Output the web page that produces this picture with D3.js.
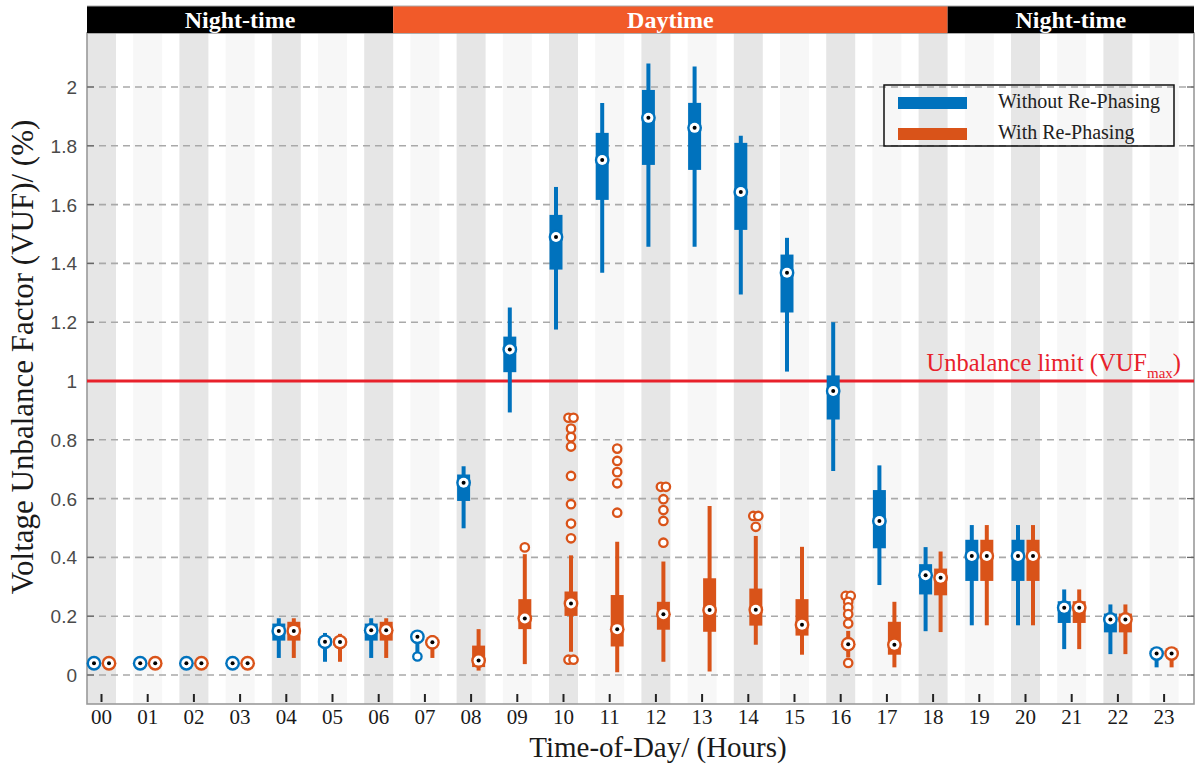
<!DOCTYPE html>
<html><head><meta charset="utf-8">
<script src="https://cdn.jsdelivr.net/npm/d3@7/dist/d3.min.js"></script>
<style>body{margin:0;background:#fff}</style>
</head><body><svg id="c" width="1203" height="765"></svg>
<script>
// ---------- DATA ----------
const hours = ["00","01","02","03","04","05","06","07","08","09","10","11","12","13","14","15","16","17","18","19","20","21","22","23"];
const yTicks = [0,0.2,0.4,0.6,0.8,1,1.2,1.4,1.6,1.8,2];
const yTickLabels = ["0","0.2","0.4","0.6","0.8","1","1.2","1.4","1.6","1.8","2"];
const seriesNames = ["Without Re-Phasing","With Re-Phasing"];
const periods = ["Night-time","Daytime","Night-time"];
const vufLimit = 1;

// Without Re-Phasing (blue)
const woLo  = [0.04,0.04,0.04,0.04,0.058,0.045,0.058,0.068,0.499,0.893,1.175,1.368,1.457,1.457,1.294,1.032,0.694,0.306,0.149,0.169,0.169,0.088,0.071,0.026];
const woQ1  = [0.04,0.04,0.04,0.04,0.117,0.100,0.117,0.125,0.592,1.030,1.379,1.616,1.735,1.718,1.514,1.233,0.869,0.431,0.274,0.320,0.320,0.177,0.145,0.068];
const woMed = [0.04,0.04,0.04,0.04,0.150,0.113,0.152,0.130,0.654,1.107,1.490,1.752,1.895,1.861,1.643,1.368,0.966,0.524,0.339,0.405,0.405,0.229,0.189,0.073];
const woQ3  = [0.04,0.04,0.04,0.04,0.175,0.125,0.175,0.135,0.682,1.151,1.565,1.844,1.990,1.946,1.810,1.430,1.019,0.629,0.377,0.460,0.460,0.251,0.209,0.077];
const woHi  = [0.04,0.04,0.04,0.04,0.193,0.143,0.193,0.140,0.710,1.250,1.660,1.946,2.080,2.070,1.834,1.487,1.200,0.713,0.435,0.510,0.510,0.291,0.240,0.080];
const woOut = [[],[],[],[],[],[],[],[0.063],[],[],[],[],[],[],[],[],[],[],[],[],[],[],[],[]];

// With Re-Phasing (orange)
const wLo  = [0.04,0.04,0.04,0.04,0.058,0.045,0.058,0.058,0.015,0.037,0.079,0.009,0.045,0.012,0.103,0.069,0.060,0.026,0.146,0.169,0.169,0.088,0.071,0.026];
const wQ1  = [0.04,0.04,0.04,0.04,0.117,0.100,0.117,0.100,0.027,0.156,0.201,0.097,0.154,0.147,0.168,0.134,0.095,0.069,0.271,0.320,0.320,0.177,0.145,0.068];
const wMed = [0.04,0.04,0.04,0.04,0.150,0.112,0.152,0.111,0.049,0.192,0.243,0.156,0.207,0.221,0.222,0.171,0.105,0.103,0.331,0.405,0.405,0.229,0.189,0.073];
const wQ3  = [0.04,0.04,0.04,0.04,0.181,0.125,0.181,0.120,0.100,0.258,0.284,0.272,0.249,0.329,0.294,0.258,0.115,0.181,0.362,0.460,0.460,0.251,0.209,0.077];
const wHi  = [0.04,0.04,0.04,0.04,0.193,0.140,0.193,0.136,0.156,0.411,0.407,0.453,0.386,0.575,0.473,0.436,0.150,0.249,0.420,0.510,0.510,0.291,0.240,0.080];
const wOut = [[],[],[],[],[],[],[],[],[],[0.434],
  [0.875,0.875,0.838,0.809,0.777,0.677,0.581,0.515,0.465,0.052,0.052],
  [0.770,0.728,0.690,0.652,0.552],
  [0.640,0.640,0.598,0.561,0.524,0.450],
  [],
  [0.541,0.541,0.504],
  [],
  [0.269,0.269,0.249,0.230,0.207,0.175,0.041],
  [],[],[],[],[],[],[]];

// ---------- LAYOUT ----------
const BLUE = "#0072BD", ORANGE = "#D95319", RED = "#e8212b";
const L = 87, R = 1194, T = 33, B = 704, BANDTOP = 6;
const svg = d3.select("#c");
const x = d3.scaleBand().domain(hours).range([78.4, 1187.2]).paddingInner(0).paddingOuter(0);
const cx = h => x(h) + x.bandwidth()/2;
const y = d3.scaleLinear().domain([0, 2]).range([675, 87]);
const serif = "'Liberation Serif','Times New Roman',serif";
const sans = "'Liberation Sans',Arial,sans-serif";

// alternating background bands
svg.append("g").selectAll("rect").data(hours).join("rect")
  .attr("x", h => cx(h) - 14.5).attr("y", T).attr("width", 29).attr("height", B - T)
  .attr("fill", (h, i) => i % 2 === 0 ? "#e6e6e6" : "#f7f7f7");

// gridlines
svg.append("g").selectAll("line").data(yTicks).join("line")
  .attr("x1", L).attr("x2", R).attr("y1", d => y(d)).attr("y2", d => y(d))
  .attr("stroke", "#a9a9a9").attr("stroke-width", 1.6).attr("stroke-dasharray", "7,5");

// frame
svg.append("rect").attr("x", L).attr("y", T).attr("width", R - L).attr("height", B - T)
  .attr("fill", "none").attr("stroke", "#9a9a9a").attr("stroke-width", 1.6);

// y ticks & labels
const yg = svg.append("g");
yg.selectAll("line.l").data(yTicks).join("line").attr("class","l")
  .attr("x1", L).attr("x2", L + 7).attr("y1", d => y(d)).attr("y2", d => y(d))
  .attr("stroke", "#666").attr("stroke-width", 1.3);
yg.selectAll("line.r").data(yTicks).join("line").attr("class","r")
  .attr("x1", R - 7).attr("x2", R).attr("y1", d => y(d)).attr("y2", d => y(d))
  .attr("stroke", "#666").attr("stroke-width", 1.3);
yg.selectAll("text").data(yTicks).join("text")
  .attr("x", 77).attr("y", d => y(d) + 7).attr("text-anchor", "end")
  .attr("font-family", sans).attr("font-size", 19).attr("fill", "#4a4a4a")
  .text((d, i) => yTickLabels[i]);

// x ticks & labels
const xg = svg.append("g");
xg.selectAll("line").data(hours).join("line")
  .attr("x1", cx).attr("x2", cx).attr("y1", B - 10).attr("y2", B - 2)
  .attr("stroke", "#222").attr("stroke-width", 2);
xg.selectAll("text").data(hours).join("text")
  .attr("x", cx).attr("y", 724).attr("text-anchor", "middle")
  .attr("font-family", serif).attr("font-size", 21).attr("fill", "#1a1a1a")
  .text(d => d);

// top period band
const x6 = cx("06") + 14.5, x18 = cx("18") + 14.5;
const segs = [[L, x6, "#000"], [x6, x18, "#f15a29"], [x18, R, "#000"]];
svg.append("g").selectAll("rect").data(segs).join("rect")
  .attr("x", d => d[0]).attr("y", BANDTOP).attr("width", d => d[1] - d[0]).attr("height", T - BANDTOP)
  .attr("fill", d => d[2]);
svg.append("g").selectAll("text").data(segs).join("text")
  .attr("x", d => (d[0] + d[1]) / 2).attr("y", 28).attr("text-anchor", "middle")
  .attr("font-family", serif).attr("font-weight", "bold").attr("font-size", 24).attr("fill", "#fff")
  .text((d, i) => periods[i]);
svg.append("line").attr("x1", L).attr("x2", R).attr("y1", BANDTOP).attr("y2", BANDTOP)
  .attr("stroke", "#aaa").attr("stroke-width", 1);

// limit line
svg.append("line").attr("x1", L).attr("x2", R).attr("y1", y(vufLimit)).attr("y2", y(vufLimit))
  .attr("stroke", RED).attr("stroke-width", 3);
const lt = svg.append("text").attr("x", 1181).attr("y", y(vufLimit) - 10).attr("text-anchor", "end")
  .attr("font-family", serif).attr("font-size", 24.5).attr("fill", RED);
lt.append("tspan").text("Unbalance limit (VUF");
lt.append("tspan").attr("font-size", 15).attr("dy", 7).text("max");
lt.append("tspan").attr("dy", -7).text(")");

// boxplots
function drawSeries(lo, q1, med, q3, hi, out, color, off) {
  const g = svg.append("g");
  hours.forEach((h, i) => {
    const px = cx(h) + off;
    g.append("line").attr("x1", px).attr("x2", px).attr("y1", y(lo[i])).attr("y2", y(hi[i]))
      .attr("stroke", color).attr("stroke-width", 4);
    g.append("rect").attr("x", px - 6.5).attr("width", 13)
      .attr("y", y(q3[i])).attr("height", Math.max(0, y(q1[i]) - y(q3[i])))
      .attr("fill", color);
    const groups = d3.group(out[i], v => v.toFixed(3));
    groups.forEach(vals => {
      vals.forEach((v, j) => {
        const dx = (j - (vals.length - 1) / 2) * 5;
        g.append("circle").attr("cx", px + dx).attr("cy", y(v)).attr("r", 4.2)
          .attr("fill", "#fff").attr("stroke", color).attr("stroke-width", 2.3);
      });
    });
    g.append("circle").attr("cx", px).attr("cy", y(med[i])).attr("r", 7.4).attr("fill", color);
    g.append("circle").attr("cx", px).attr("cy", y(med[i])).attr("r", 5).attr("fill", "#fff");
    g.append("circle").attr("cx", px).attr("cy", y(med[i])).attr("r", 2).attr("fill", "#000");
  });
}
drawSeries(woLo, woQ1, woMed, woQ3, woHi, woOut, BLUE, -7.5);
drawSeries(wLo, wQ1, wMed, wQ3, wHi, wOut, ORANGE, 7.5);

// legend
const lg = svg.append("g");
lg.append("rect").attr("x", 884).attr("y", 85).attr("width", 290).attr("height", 61)
  .attr("fill", "none").attr("stroke", "#111").attr("stroke-width", 1.5);
[BLUE, ORANGE].forEach((c, i) => {
  lg.append("rect").attr("x", 898).attr("y", 97 + i * 31).attr("width", 69).attr("height", 12).attr("fill", c);
  lg.append("text").attr("x", 998).attr("y", 108 + i * 31)
    .attr("font-family", serif).attr("font-size", 20).attr("fill", "#222").text(seriesNames[i]);
});

// axis titles
svg.append("text").attr("x", 658).attr("y", 757).attr("text-anchor", "middle")
  .attr("font-family", serif).attr("font-size", 29).attr("fill", "#1a1a1a").text("Time-of-Day/ (Hours)");
svg.append("text").attr("transform", "translate(33,357) rotate(-90)").attr("text-anchor", "middle")
  .attr("font-family", serif).attr("font-size", 31).attr("fill", "#1a1a1a").text("Voltage Unbalance Factor (VUF)/ (%)");
</script></body></html>
